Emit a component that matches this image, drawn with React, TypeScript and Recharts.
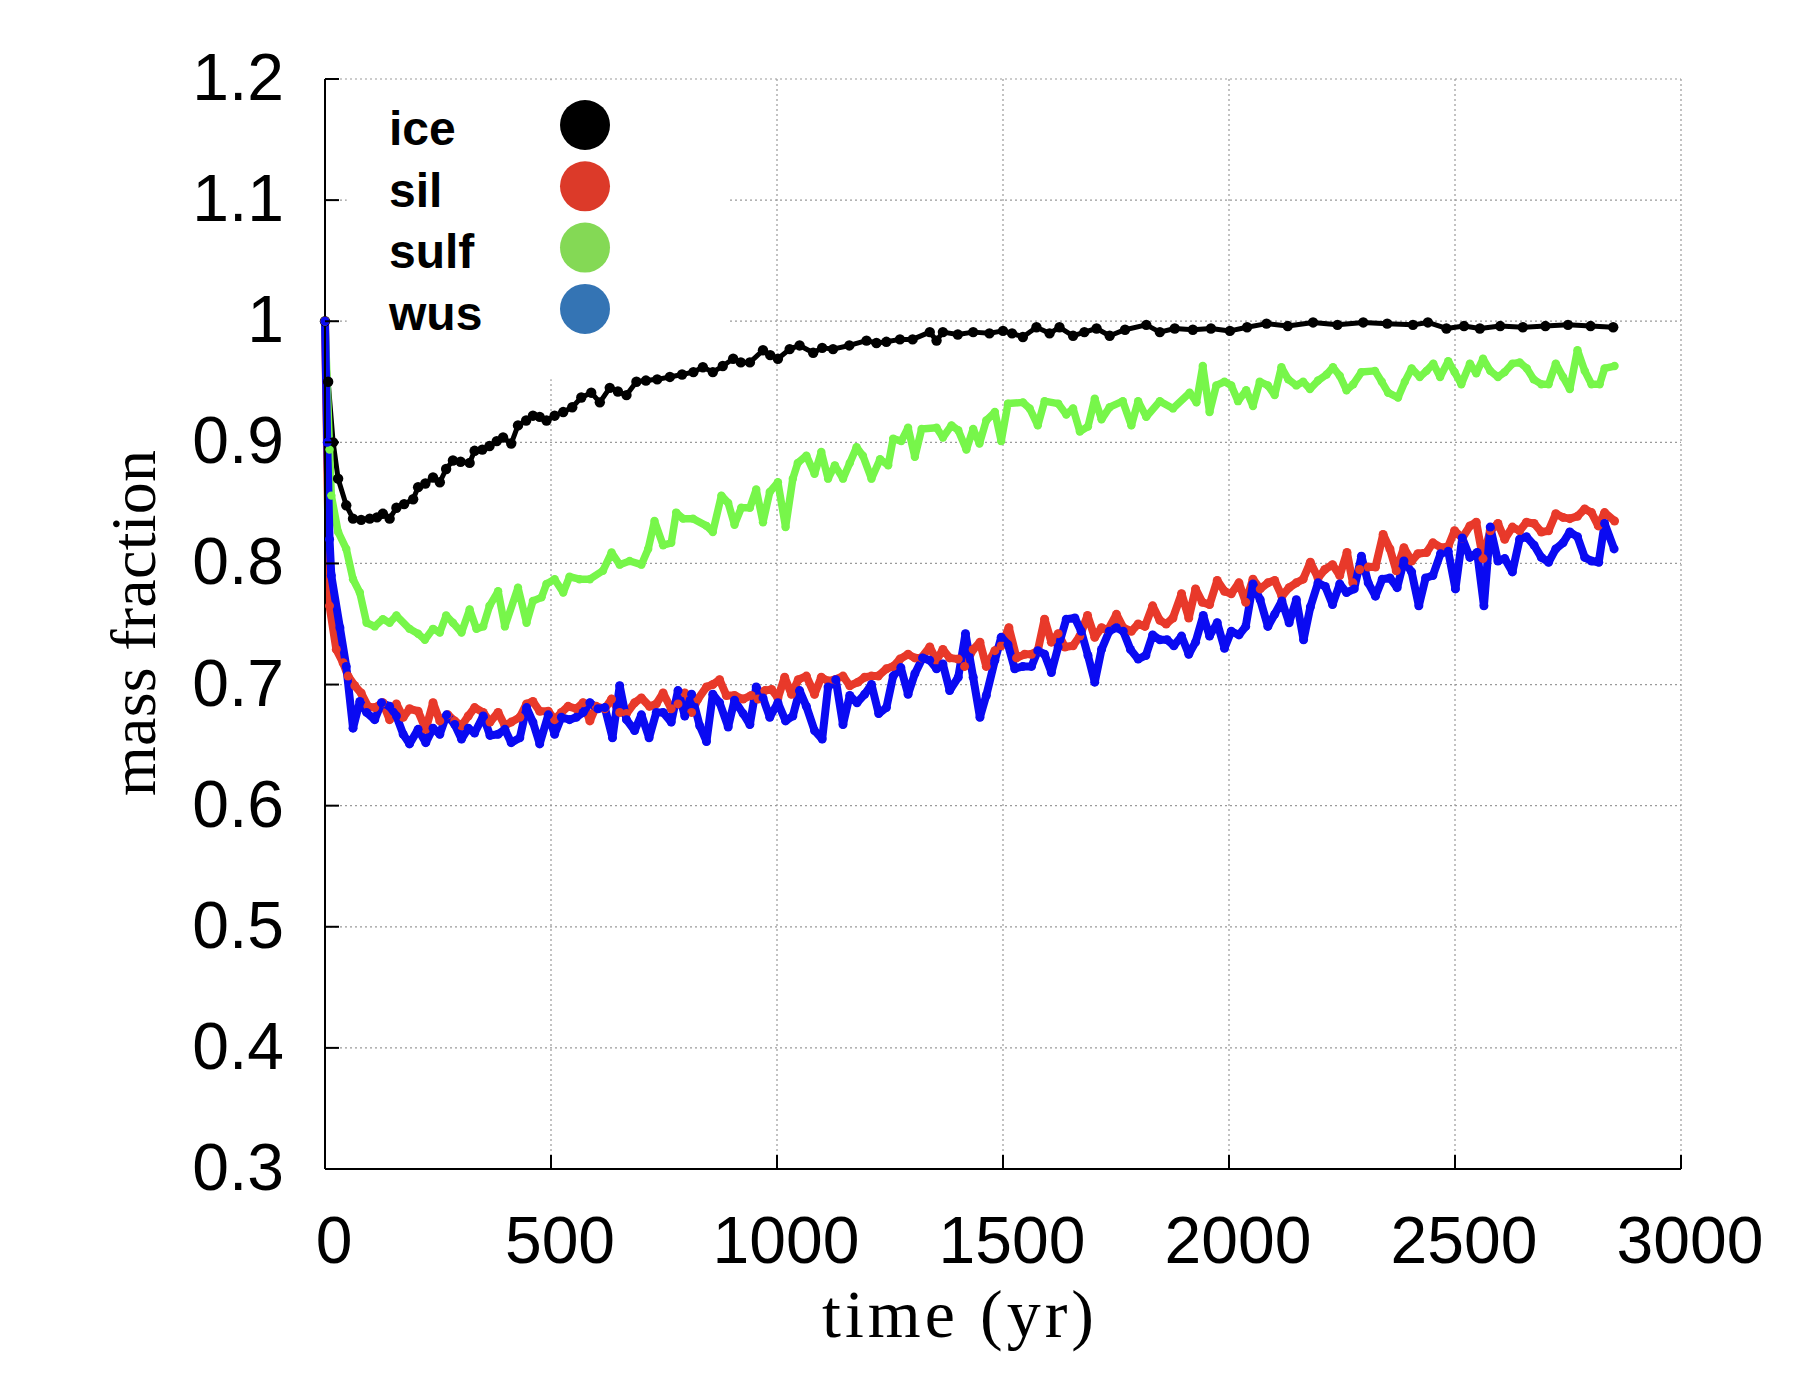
import React from 'react';
import { LineChart, Line, XAxis, YAxis, CartesianGrid, ReferenceArea } from 'recharts';

// ---- data (time in yr, mass fraction) ----
const iceTime = [0, 7, 18, 29, 47, 62, 80, 99, 115, 128, 143, 158, 175, 195, 206, 222, 239, 254, 268, 283, 300, 320, 331, 348, 364, 380, 394, 412, 427, 445, 460, 475, 490, 508, 527, 547, 567, 589, 608, 630, 648, 667, 689, 710, 735, 763, 790, 815, 836, 858, 880, 903, 920, 940, 969, 985, 1002, 1028, 1050, 1080, 1100, 1124, 1160, 1198, 1220, 1242, 1272, 1300, 1338, 1353, 1367, 1400, 1434, 1470, 1500, 1520, 1544, 1574, 1603, 1625, 1655, 1680, 1707, 1736, 1770, 1817, 1847, 1880, 1920, 1960, 2002, 2040, 2083, 2130, 2186, 2240, 2297, 2350, 2407, 2440, 2481, 2520, 2555, 2600, 2650, 2700, 2750, 2800, 2850];
const iceMass = [1.0, 0.95, 0.9, 0.87, 0.848, 0.837, 0.836, 0.837, 0.838, 0.841, 0.837, 0.846, 0.849, 0.853, 0.863, 0.866, 0.871, 0.867, 0.878, 0.885, 0.884, 0.883, 0.893, 0.894, 0.897, 0.901, 0.904, 0.899, 0.914, 0.918, 0.922, 0.921, 0.918, 0.922, 0.925, 0.929, 0.937, 0.941, 0.933, 0.945, 0.942, 0.939, 0.95, 0.951, 0.952, 0.954, 0.956, 0.958, 0.962, 0.958, 0.963, 0.969, 0.966, 0.966, 0.976, 0.972, 0.969, 0.977, 0.98, 0.974, 0.978, 0.977, 0.98, 0.984, 0.982, 0.983, 0.985, 0.985, 0.991, 0.984, 0.991, 0.989, 0.991, 0.99, 0.992, 0.99, 0.987, 0.995, 0.99, 0.995, 0.988, 0.991, 0.994, 0.988, 0.993, 0.997, 0.991, 0.994, 0.993, 0.994, 0.992, 0.995, 0.998, 0.996, 0.999, 0.997, 0.999, 0.998, 0.997, 0.999, 0.994, 0.996, 0.994, 0.996, 0.995, 0.996, 0.997, 0.996, 0.995];

const silTime = [0, 10, 25, 40, 51, 66, 80, 95, 110, 128, 143, 158, 173, 187, 206, 223, 239, 254, 272, 287, 302, 317, 331, 350, 365, 383, 398, 412, 431, 446, 460, 475, 494, 508, 523, 538, 556, 571, 586, 600, 619, 634, 652, 667, 685, 700, 718, 733, 748, 766, 781, 796, 811, 825, 844, 858, 873, 888, 906, 925, 943, 958, 973, 988, 1002, 1017, 1032, 1047, 1065, 1083, 1098, 1113, 1128, 1146, 1161, 1179, 1194, 1209, 1224, 1242, 1257, 1272, 1290, 1305, 1319, 1338, 1353, 1367, 1382, 1401, 1415, 1434, 1449, 1463, 1482, 1496, 1513, 1530, 1548, 1563, 1577, 1592, 1607, 1622, 1637, 1655, 1670, 1687, 1703, 1718, 1732, 1751, 1766, 1784, 1799, 1814, 1831, 1847, 1861, 1876, 1895, 1911, 1926, 1941, 1957, 1974, 1990, 2005, 2022, 2037, 2053, 2069, 2086, 2101, 2117, 2133, 2149, 2164, 2180, 2197, 2212, 2229, 2245, 2261, 2274, 2289, 2308, 2324, 2341, 2356, 2370, 2387, 2404, 2418, 2437, 2451, 2470, 2485, 2499, 2516, 2533, 2547, 2562, 2578, 2595, 2610, 2627, 2643, 2658, 2675, 2691, 2707, 2723, 2739, 2754, 2771, 2787, 2802, 2817, 2831, 2853];
const silMass = [1.0, 0.765, 0.729, 0.718, 0.707, 0.699, 0.693, 0.682, 0.681, 0.685, 0.671, 0.684, 0.673, 0.68, 0.678, 0.663, 0.685, 0.67, 0.675, 0.67, 0.666, 0.674, 0.681, 0.677, 0.669, 0.677, 0.666, 0.669, 0.673, 0.684, 0.686, 0.678, 0.678, 0.671, 0.677, 0.682, 0.68, 0.685, 0.67, 0.682, 0.68, 0.688, 0.677, 0.676, 0.685, 0.689, 0.682, 0.684, 0.693, 0.68, 0.684, 0.693, 0.677, 0.688, 0.698, 0.7, 0.704, 0.691, 0.691, 0.688, 0.691, 0.688, 0.695, 0.696, 0.689, 0.706, 0.692, 0.704, 0.707, 0.692, 0.706, 0.703, 0.704, 0.707, 0.699, 0.702, 0.706, 0.707, 0.707, 0.713, 0.715, 0.721, 0.725, 0.722, 0.722, 0.731, 0.72, 0.729, 0.722, 0.721, 0.715, 0.729, 0.735, 0.715, 0.728, 0.732, 0.747, 0.722, 0.725, 0.725, 0.728, 0.754, 0.735, 0.742, 0.731, 0.732, 0.74, 0.757, 0.739, 0.747, 0.745, 0.758, 0.747, 0.744, 0.75, 0.748, 0.765, 0.753, 0.75, 0.755, 0.775, 0.755, 0.779, 0.768, 0.766, 0.786, 0.777, 0.775, 0.784, 0.768, 0.787, 0.779, 0.784, 0.786, 0.773, 0.78, 0.784, 0.787, 0.801, 0.788, 0.795, 0.799, 0.79, 0.809, 0.784, 0.795, 0.797, 0.797, 0.824, 0.812, 0.794, 0.813, 0.802, 0.808, 0.809, 0.817, 0.813, 0.814, 0.827, 0.821, 0.831, 0.834, 0.804, 0.827, 0.833, 0.82, 0.83, 0.827, 0.834, 0.833, 0.826, 0.827, 0.841, 0.838, 0.837, 0.839, 0.845, 0.842, 0.831, 0.842, 0.835];

const sulfTime = [0, 10, 14, 29, 47, 62, 77, 92, 110, 128, 143, 158, 187, 206, 221, 239, 254, 268, 283, 302, 320, 335, 350, 364, 383, 398, 427, 446, 460, 479, 490, 508, 527, 541, 563, 586, 615, 634, 652, 674, 700, 715, 729, 748, 766, 777, 792, 814, 844, 858, 877, 892, 906, 921, 940, 954, 969, 984, 1002, 1019, 1035, 1046, 1065, 1083, 1098, 1113, 1128, 1146, 1161, 1176, 1190, 1209, 1228, 1246, 1257, 1275, 1290, 1305, 1320, 1353, 1367, 1386, 1401, 1419, 1434, 1448, 1463, 1482, 1496, 1511, 1544, 1559, 1577, 1592, 1622, 1640, 1655, 1670, 1688, 1703, 1718, 1736, 1765, 1784, 1799, 1817, 1847, 1876, 1913, 1928, 1942, 1957, 1972, 1990, 2005, 2020, 2038, 2053, 2068, 2086, 2101, 2116, 2131, 2149, 2164, 2179, 2197, 2216, 2230, 2245, 2260, 2275, 2293, 2323, 2338, 2352, 2374, 2389, 2404, 2422, 2437, 2452, 2467, 2485, 2499, 2514, 2533, 2547, 2562, 2578, 2595, 2610, 2627, 2643, 2659, 2674, 2691, 2707, 2723, 2739, 2754, 2771, 2787, 2802, 2820, 2831, 2853];
const sulfMass = [1.0, 0.894, 0.856, 0.826, 0.812, 0.787, 0.776, 0.751, 0.748, 0.754, 0.751, 0.757, 0.746, 0.742, 0.737, 0.746, 0.743, 0.757, 0.751, 0.743, 0.762, 0.746, 0.748, 0.765, 0.777, 0.748, 0.78, 0.751, 0.769, 0.772, 0.783, 0.787, 0.776, 0.789, 0.787, 0.787, 0.794, 0.809, 0.799, 0.802, 0.799, 0.812, 0.835, 0.815, 0.817, 0.842, 0.837, 0.837, 0.831, 0.826, 0.856, 0.85, 0.832, 0.846, 0.846, 0.861, 0.834, 0.859, 0.867, 0.83, 0.87, 0.883, 0.889, 0.874, 0.892, 0.87, 0.881, 0.87, 0.883, 0.896, 0.889, 0.87, 0.886, 0.881, 0.903, 0.901, 0.912, 0.888, 0.911, 0.912, 0.904, 0.914, 0.91, 0.894, 0.911, 0.899, 0.918, 0.925, 0.901, 0.932, 0.933, 0.928, 0.914, 0.934, 0.932, 0.923, 0.928, 0.909, 0.913, 0.936, 0.919, 0.929, 0.934, 0.914, 0.934, 0.921, 0.934, 0.928, 0.941, 0.933, 0.963, 0.925, 0.947, 0.95, 0.947, 0.934, 0.943, 0.93, 0.95, 0.947, 0.939, 0.962, 0.952, 0.947, 0.95, 0.944, 0.951, 0.956, 0.962, 0.955, 0.943, 0.948, 0.958, 0.959, 0.95, 0.941, 0.937, 0.95, 0.961, 0.954, 0.959, 0.965, 0.954, 0.967, 0.958, 0.948, 0.965, 0.957, 0.969, 0.959, 0.954, 0.958, 0.965, 0.966, 0.961, 0.952, 0.948, 0.948, 0.965, 0.954, 0.944, 0.976, 0.959, 0.948, 0.948, 0.961, 0.963];

const wusTime = [0, 5, 10, 14, 33, 47, 62, 77, 92, 110, 125, 143, 158, 173, 187, 206, 223, 239, 254, 269, 287, 302, 317, 331, 350, 365, 383, 398, 412, 431, 446, 460, 475, 494, 508, 523, 541, 556, 571, 586, 604, 619, 636, 652, 667, 685, 700, 717, 733, 748, 766, 781, 796, 811, 829, 844, 858, 873, 892, 906, 925, 940, 954, 969, 984, 1002, 1019, 1035, 1050, 1065, 1083, 1100, 1113, 1130, 1146, 1161, 1177, 1194, 1209, 1225, 1242, 1257, 1274, 1290, 1305, 1322, 1338, 1353, 1367, 1382, 1401, 1417, 1434, 1449, 1463, 1482, 1496, 1511, 1526, 1544, 1563, 1577, 1592, 1607, 1622, 1640, 1659, 1673, 1688, 1703, 1718, 1735, 1751, 1766, 1782, 1799, 1816, 1831, 1847, 1863, 1878, 1895, 1911, 1926, 1943, 1957, 1974, 1990, 2005, 2022, 2037, 2053, 2069, 2086, 2101, 2117, 2133, 2149, 2165, 2180, 2197, 2213, 2229, 2245, 2260, 2277, 2293, 2308, 2324, 2339, 2356, 2372, 2387, 2404, 2420, 2435, 2451, 2468, 2485, 2501, 2516, 2533, 2549, 2564, 2578, 2595, 2610, 2627, 2643, 2658, 2675, 2691, 2707, 2723, 2739, 2754, 2771, 2787, 2802, 2818, 2831, 2852];
const wusMass = [1.0, 0.9, 0.82, 0.79, 0.747, 0.715, 0.664, 0.686, 0.677, 0.671, 0.685, 0.682, 0.674, 0.659, 0.651, 0.663, 0.652, 0.664, 0.659, 0.675, 0.667, 0.655, 0.664, 0.66, 0.674, 0.658, 0.659, 0.663, 0.652, 0.656, 0.681, 0.669, 0.651, 0.675, 0.659, 0.673, 0.671, 0.673, 0.677, 0.685, 0.68, 0.681, 0.656, 0.699, 0.671, 0.662, 0.675, 0.656, 0.677, 0.677, 0.669, 0.695, 0.674, 0.692, 0.666, 0.653, 0.692, 0.685, 0.665, 0.687, 0.676, 0.667, 0.698, 0.689, 0.673, 0.685, 0.67, 0.674, 0.695, 0.682, 0.662, 0.655, 0.698, 0.704, 0.667, 0.691, 0.685, 0.692, 0.7, 0.676, 0.681, 0.707, 0.714, 0.692, 0.709, 0.722, 0.72, 0.713, 0.717, 0.695, 0.706, 0.742, 0.706, 0.673, 0.691, 0.72, 0.739, 0.733, 0.713, 0.715, 0.715, 0.728, 0.725, 0.71, 0.731, 0.754, 0.755, 0.744, 0.724, 0.702, 0.729, 0.744, 0.747, 0.744, 0.729, 0.721, 0.724, 0.741, 0.737, 0.737, 0.732, 0.74, 0.725, 0.735, 0.757, 0.74, 0.751, 0.73, 0.744, 0.741, 0.748, 0.783, 0.77, 0.748, 0.758, 0.769, 0.751, 0.77, 0.737, 0.764, 0.784, 0.781, 0.766, 0.783, 0.776, 0.779, 0.806, 0.784, 0.773, 0.787, 0.788, 0.78, 0.802, 0.793, 0.765, 0.788, 0.79, 0.808, 0.81, 0.779, 0.821, 0.805, 0.809, 0.765, 0.83, 0.802, 0.804, 0.793, 0.82, 0.822, 0.815, 0.805, 0.801, 0.812, 0.817, 0.826, 0.822, 0.805, 0.802, 0.801, 0.833, 0.812];

const xTicks = [0, 500, 1000, 1500, 2000, 2500, 3000];
const yTicks = [0.3, 0.4, 0.5, 0.6, 0.7, 0.8, 0.9, 1, 1.1, 1.2];
const seriesNames = ['ice', 'sil', 'sulf', 'wus'];
const lineColors = ['#000000', '#e8392a', '#77f64a', '#0a0af2'];
const legendColors = ['#000000', '#dc3a29', '#84d955', '#3474b4'];
// key area (in data units): time 48..893, fraction 0.952..1.2
const keyTime = [48, 893];
const keyFrac = [0.952, 1.199];

const toRows = (ts: number[], vs: number[]) => ts.map((t, i) => ({ t, v: vs[i] }));
const seriesData = [
  toRows(iceTime, iceMass),
  toRows(silTime, silMass),
  toRows(sulfTime, sulfMass),
  toRows(wusTime, wusMass),
];
const lineWidths = [5, 8, 7.5, 8];
const dotRadius = [5.2, 4.5, 4.2, 4.5];

const W = 1784;
const H = 1384;
const TICK_LEN = 14;
const SANS = '"Liberation Sans", Arial, Helvetica, sans-serif';
const SERIF = '"Liberation Serif", "Times New Roman", serif';

const BottomTick = (props: any) => {
  const { x, y, payload } = props;
  return (
    <g>
      <line x1={x} y1={y} x2={x} y2={y - TICK_LEN} stroke="#000" strokeWidth={2} />
      <text x={x + 9} y={y + 94} textAnchor="middle" fontSize={66} fontFamily={SANS} fill="#000">
        {String(payload.value)}
      </text>
    </g>
  );
};
const LeftTick = (props: any) => {
  const { x, y, payload } = props;
  return (
    <g>
      <line x1={x} y1={y} x2={x + TICK_LEN} y2={y} stroke="#000" strokeWidth={2} />
      <text x={x - 41} y={y + 21} textAnchor="end" fontSize={66} fontFamily={SANS} fill="#000">
        {String(payload.value)}
      </text>
    </g>
  );
};
const TopTick = (props: any) => {
  const { x, y } = props;
  return <line x1={x} y1={y} x2={x} y2={y + TICK_LEN} stroke="#000" strokeWidth={2} />;
};
const RightTick = (props: any) => {
  const { x, y } = props;
  return <line x1={x} y1={y} x2={x - TICK_LEN} y2={y} stroke="#000" strokeWidth={2} />;
};

export default function App() {
  return (
    <div style={{ position: 'relative', width: W, height: H }}>
      <LineChart width={W} height={H} margin={{ top: 71, right: 111, bottom: 123, left: 217 }}>
        <CartesianGrid stroke="#9a9a9a" strokeDasharray="2 3" strokeWidth={1.2} />
        <ReferenceArea
          x1={keyTime[0]}
          x2={keyTime[1]}
          y1={keyFrac[0]}
          y2={keyFrac[1]}
          fill="#ffffff"
          fillOpacity={1}
          stroke="none"
          ifOverflow="extendDomain"
        />
        <XAxis
          dataKey="t"
          type="number"
          domain={[0, 3000]}
          ticks={xTicks}
          height={100}
          tickSize={0}
          tickMargin={0}
          axisLine={{ stroke: '#000', strokeWidth: 2 }}
          tickLine={false}
          tick={<BottomTick />}
          interval={0}
        />
        <XAxis
          xAxisId="top"
          orientation="top"
          dataKey="t"
          type="number"
          domain={[0, 3000]}
          ticks={xTicks}
          height={0}
          tickSize={0}
          tickMargin={0}
          axisLine={{ stroke: '#000', strokeWidth: 2 }}
          tickLine={false}
          tick={<TopTick />}
          interval={0}
        />
        <YAxis
          type="number"
          domain={[0.3, 1.2]}
          ticks={yTicks}
          width={100}
          tickSize={0}
          tickMargin={0}
          axisLine={{ stroke: '#000', strokeWidth: 2 }}
          tickLine={false}
          tick={<LeftTick />}
          interval={0}
        />
        <YAxis
          yAxisId="right"
          orientation="right"
          type="number"
          domain={[0.3, 1.2]}
          ticks={yTicks}
          width={0}
          tickSize={0}
          tickMargin={0}
          axisLine={{ stroke: '#000', strokeWidth: 2 }}
          tickLine={false}
          tick={<RightTick />}
          interval={0}
        />
        {seriesData.map((rows, i) => (
          <Line
            key={seriesNames[i]}
            data={rows}
            dataKey="v"
            name={seriesNames[i]}
            type="linear"
            stroke={lineColors[i]}
            strokeWidth={lineWidths[i]}
            strokeLinejoin="round"
            dot={{ r: dotRadius[i], fill: lineColors[i], stroke: 'none' }}
            activeDot={false}
            isAnimationActive={false}
          />
        ))}
      </LineChart>
      <svg
        width={W}
        height={H}
        style={{ position: 'absolute', left: 0, top: 0, pointerEvents: 'none' }}
      >
        {seriesNames.map((n, i) => (
          <g key={n}>
            <text x={381} y={137 + i * 61.5} fontSize={48} fontWeight="bold" fontFamily={SANS} fill="#000">
              {n}
            </text>
            <circle cx={577} cy={117 + i * 61.3} r={25} fill={legendColors[i]} />
          </g>
        ))}
        <text
          x={147}
          y={615}
          transform="rotate(-90 147 615)"
          textAnchor="middle"
          fontSize={64}
          fontFamily={SERIF}
          textLength={346}
          lengthAdjust="spacing"
          fill="#000"
        >
          mass fraction
        </text>
        <text
          x={950}
          y={1329}
          textAnchor="middle"
          fontSize={68}
          fontFamily={SERIF}
          textLength={272}
          lengthAdjust="spacing"
          fill="#000"
        >
          time (yr)
        </text>
      </svg>
    </div>
  );
}
